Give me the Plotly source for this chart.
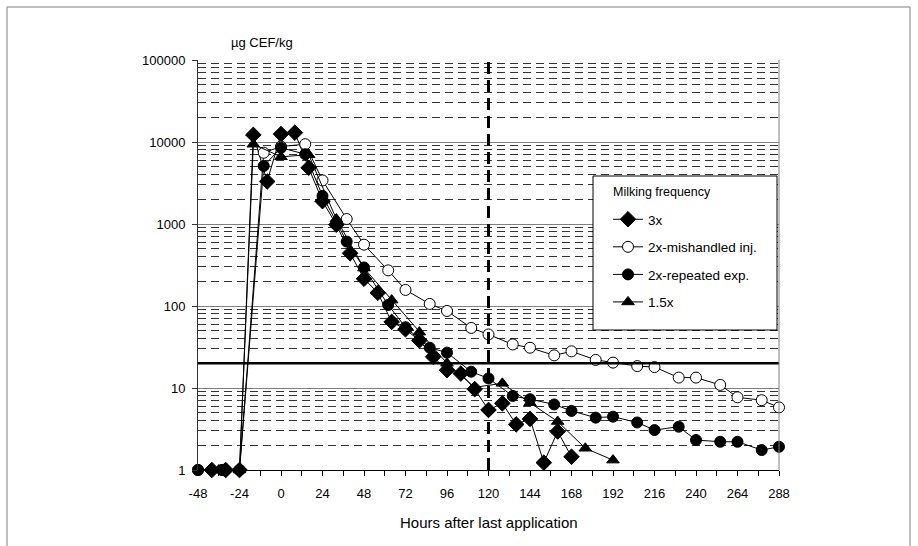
import plotly.graph_objects as go

# ---------------- data ----------------
T_3X = [-40, -32, -24, -16, -8, 0, 8, 16, 24, 32, 40, 48, 56, 64, 72, 80, 88, 96,
        104, 112, 120, 128, 136, 144, 152, 160, 168]
V_3X = [1, 1, 1, 12200, 3300, 12500, 13000, 4850, 1900, 980, 440, 215, 145, 64, 52,
        38, 24, 16.5, 15, 9.7, 5.4, 6.5, 3.6, 4.2, 1.23, 2.95, 1.45]

T_2X = [-48, -34, -24, -10, 0, 14, 24, 38, 48, 62, 72, 86, 96, 110, 120, 134, 144,
        158, 168, 182, 192, 206, 216, 230, 240, 254, 264, 278, 288]
V_2X_MISH = [1, 1, 1, 7400, 8800, 9400, 3400, 1150, 560, 272, 157, 106, 87, 54, 45,
             34, 31, 25, 28, 22, 20.4, 18.5, 18, 13.4, 13.4, 10.9, 7.7, 7.1, 5.8]
V_2X_REP = [1, 1, 1, 5100, 8500, 7100, 2200, 610, 295, 103, 55, 31, 27, 15.8, 13.1,
            8.0, 7.3, 6.3, 5.25, 4.35, 4.47, 3.8, 3.07, 3.37, 2.32, 2.21, 2.21, 1.75, 1.92]

T_15X = [-36, -24, -16, 0, 16, 32, 48, 64, 80, 96, 112, 128, 144, 160, 176, 192]
V_15X = [1, 1, 9400, 6600, 7000, 1150, 290, 118, 48, 20, 10.2, 11.4, 6.6, 3.9, 1.84, 1.32]

SERIES_NAMES = ["3x", "2x-mishandled inj.", "2x-repeated exp.", "1.5x"]

X_TICKS = [-48, -24, 0, 24, 48, 72, 96, 120, 144, 168, 192, 216, 240, 264, 288]
X_TICK_LABELS = [str(v) for v in X_TICKS]
X_MINOR_TICKS = [-36, -12, 12, 36, 60, 84, 108, 132, 156, 180, 204, 228, 252, 276]
Y_TICKS = [1, 10, 100, 1000, 10000, 100000]
Y_TICK_LABELS = ["1", "10", "100", "1000", "10000", "100000"]
Y_MINOR = [m * d for d in [1, 10, 100, 1000, 10000] for m in range(2, 10)]

MRL = 20          # horizontal limit line
WITHDRAWAL = 120  # vertical dashed line

X_TITLE = "Hours after last application"
Y_TITLE = "µg CEF/kg"
LEGEND_TITLE = "Milking frequency"

FONT = "Liberation Sans, Arial, sans-serif"

# plot-area pixel geometry (for paper-coordinate placement of decorations)
PL, PR, PT, PB = 198, 779, 60, 470


def px_x(p):
    return (p - PL) / (PR - PL)


def px_y(p):
    return (PB - p) / (PB - PT)


# ---------------- figure ----------------
fig = go.Figure()
line = dict(color="black", width=1)

fig.add_trace(go.Scatter(x=T_3X, y=V_3X, name=SERIES_NAMES[0], mode="lines+markers",
                         line=line, legendgroup="a", cliponaxis=False,
                         marker=dict(symbol="diamond", size=12, color="black",
                                     line=dict(color="black", width=1))))
fig.add_trace(go.Scatter(x=T_2X, y=V_2X_MISH, name=SERIES_NAMES[1], mode="lines+markers",
                         line=line, legendgroup="b", cliponaxis=False,
                         marker=dict(symbol="circle", size=11, color="white",
                                     line=dict(color="black", width=1))))
fig.add_trace(go.Scatter(x=T_2X, y=V_2X_REP, name=SERIES_NAMES[2], mode="lines+markers",
                         line=line, legendgroup="c", cliponaxis=False,
                         marker=dict(symbol="circle", size=11, color="black",
                                     line=dict(color="black", width=1))))
fig.add_trace(go.Scatter(x=T_15X, y=V_15X, name=SERIES_NAMES[3], mode="lines+markers",
                         line=line, legendgroup="d", cliponaxis=False,
                         marker=dict(symbol="triangle-up", size=11, color="black",
                                     line=dict(color="black", width=1))))

# reference lines
fig.add_shape(type="line", xref="paper", x0=0, x1=1, yref="y", y0=MRL, y1=MRL,
              line=dict(color="black", width=2.5), layer="above")
fig.add_shape(type="line", xref="x", x0=WITHDRAWAL, x1=WITHDRAWAL, yref="paper", y0=0, y1=1,
              line=dict(color="black", width=3, dash="12px,6px"), layer="above")
# plot-area right border
fig.add_shape(type="line", xref="paper", x0=1, x1=1, yref="paper", y0=0, y1=1,
              line=dict(color="#808080", width=1))
# chart-area border
fig.add_shape(type="rect", xref="paper", yref="paper",
              x0=px_x(7), x1=px_x(910), y0=px_y(560), y1=px_y(7),
              line=dict(color="#808080", width=1), fillcolor="rgba(0,0,0,0)")
# legend box
fig.add_shape(type="rect", xref="paper", yref="paper", layer="above",
              x0=px_x(593), x1=px_x(777), y0=px_y(330), y1=px_y(176),
              line=dict(color="black", width=1), fillcolor="white")

fig.add_annotation(text=LEGEND_TITLE, xref="paper", yref="paper",
                   x=px_x(611), y=px_y(192), xanchor="left", yanchor="middle",
                   showarrow=False, font=dict(family=FONT, size=12.5, color="black"))
fig.add_annotation(text=Y_TITLE, xref="paper", yref="paper", x=px_x(229), y=px_y(43),
                   xanchor="left", yanchor="middle", showarrow=False,
                   font=dict(family=FONT, size=13, color="black"))
fig.add_annotation(text=X_TITLE, xref="paper", yref="paper", x=0.5, y=px_y(522),
                   xanchor="center", yanchor="middle", showarrow=False,
                   font=dict(family=FONT, size=15, color="black"))

fig.update_layout(
    width=918, height=546,
    margin=dict(l=PL, r=918 - PR, t=PT, b=546 - PB),
    paper_bgcolor="white", plot_bgcolor="white",
    font=dict(family=FONT, size=13, color="black"),
    showlegend=True,
    legend=dict(
        font=dict(family=FONT, size=13.5, color="black"),
        x=px_x(608), xanchor="left", y=px_y(204), yanchor="top",
        bgcolor="rgba(0,0,0,0)", borderwidth=0,
        tracegroupgap=7, traceorder="grouped", itemwidth=30,
    ),
    xaxis=dict(
        range=[-48, 288], tickvals=X_TICKS, ticktext=X_TICK_LABELS,
        ticks="outside", ticklen=5, tickcolor="black", tickwidth=1,
        showline=True, linecolor="black", linewidth=1,
        showgrid=False, zeroline=False, ticklabelstandoff=6,
        tickfont=dict(family=FONT, size=13, color="black"),
        minor=dict(tickvals=X_MINOR_TICKS, ticks="outside", ticklen=5,
                   tickcolor="black", showgrid=False),
    ),
    yaxis=dict(
        type="log", range=[0, 5], tickvals=Y_TICKS, ticktext=Y_TICK_LABELS,
        ticks="outside", ticklen=5, tickcolor="#333", tickwidth=1,
        showline=True, linecolor="#333", linewidth=1,
        showgrid=True, gridcolor="#808080", gridwidth=1, zeroline=False,
        ticklabelstandoff=4,
        tickfont=dict(family=FONT, size=13, color="black"),
        minor=dict(tickvals=Y_MINOR, ticks="", showgrid=True, gridcolor="#333",
                   gridwidth=1, griddash="8px,5px"),
    ),
)

fig.write_html("out.html")
